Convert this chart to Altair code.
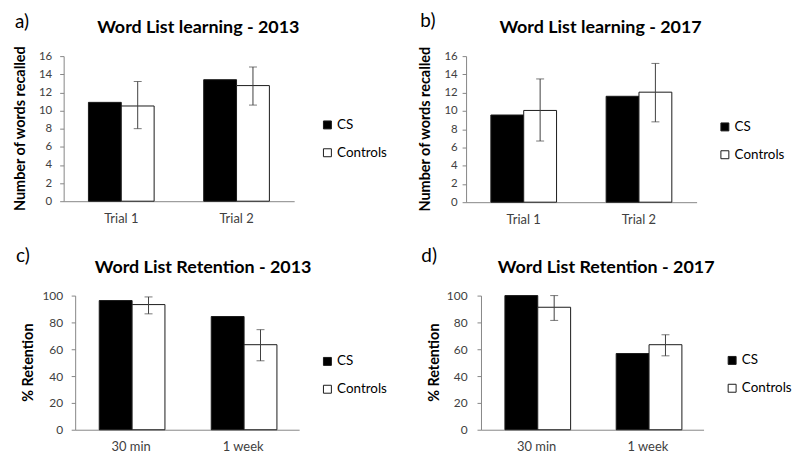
import altair as alt
import pandas as pd

groups = ["CS", "Controls"]
cats_learning = ["Trial 1", "Trial 2"]
cats_retention = ["30 min", "1 week"]

# Panel a: Word List learning - 2013
a_cs = [10.9, 13.4]
a_ctrl = [10.5, 12.75]
a_ctrl_lo = [8.0, 10.6]
a_ctrl_hi = [13.2, 14.8]

# Panel b: Word List learning - 2017
b_cs = [9.55, 11.6]
b_ctrl = [10.05, 12.05]
b_ctrl_lo = [6.7, 8.8]
b_ctrl_hi = [13.5, 15.2]

# Panel c: Word List Retention - 2013
c_cs = [96.3, 84.4]
c_ctrl = [93.3, 63.4]
c_ctrl_lo = [86.4, 51.4]
c_ctrl_hi = [99.0, 74.6]

# Panel d: Word List Retention - 2017
d_cs = [100.0, 56.8]
d_ctrl = [91.3, 63.4]
d_ctrl_lo = [81.5, 55.1]
d_ctrl_hi = [100.0, 70.8]

AXIS_GRAY = "#868686"
LABEL_GRAY = "#404040"
FONT = "Lato"


def make_df(cats, cs, ctrl, lo, hi):
    rows = []
    for i, c in enumerate(cats):
        rows.append({"category": c, "group": "CS", "value": cs[i], "lo": None, "hi": None})
        rows.append({"category": c, "group": "Controls", "value": ctrl[i], "lo": lo[i], "hi": hi[i]})
    return pd.DataFrame(rows)


def panel(cats, cs, ctrl, lo, hi, ymax, ystep, ytitle, title, label,
          width, height, lab_pad, title_x, ttl_cx, lbl_x, lbl_y, leg_x, leg_y, ylab_size,
          space_left, x0=0.0):
    df = make_df(cats, cs, ctrl, lo, hi)
    base = alt.Chart(df)
    x = alt.X("category:N", sort=cats,
              scale=alt.Scale(range=[x0, width], paddingInner=0.43, paddingOuter=0.215),
              axis=alt.Axis(title=None, labelAngle=0, ticks=False, domainColor=AXIS_GRAY,
                            labelColor=LABEL_GRAY, labelFontSize=13, labelPadding=11,
                            labelFont=FONT))
    xo = alt.XOffset("group:N", sort=groups, scale=alt.Scale(paddingInner=0, paddingOuter=0))
    yscale = alt.Scale(domain=[0, ymax], nice=False)
    yaxis = alt.Axis(title=None, values=list(range(0, ymax + 1, ystep)), grid=False,
                     labelOverlap=False, labelFlush=False, offset=-x0,
                     domainColor=AXIS_GRAY, tickColor=AXIS_GRAY, tickSize=4,
                     labelColor=LABEL_GRAY, labelFontSize=ylab_size, labelPadding=lab_pad,
                     labelFont=FONT)
    bars = base.mark_bar(stroke="#1a1a1a", strokeWidth=1).encode(
        x=x, xOffset=xo, y=alt.Y("value:Q", scale=yscale, axis=yaxis),
        fill=alt.Fill("group:N", sort=groups,
                      scale=alt.Scale(domain=groups, range=["#000000", "#ffffff"]),
                      legend=alt.Legend(title=None, orient="none", legendX=leg_x, legendY=leg_y,
                                        symbolType="square", symbolSize=64,
                                        symbolStrokeColor="#1a1a1a", symbolStrokeWidth=1,
                                        labelFontSize=13.5, labelFont=FONT, labelColor="black",
                                        rowPadding=13, labelOffset=3, padding=0)),
    )
    err = base.transform_filter("datum.group == 'Controls'")
    rule = err.mark_rule(color=LABEL_GRAY, strokeWidth=1).encode(
        x=x, xOffset=xo, y=alt.Y("lo:Q", scale=yscale, axis=yaxis), y2="hi:Q")
    cap_lo = err.mark_tick(color=LABEL_GRAY, thickness=1, size=8).encode(
        x=x, xOffset=xo, y=alt.Y("lo:Q", scale=yscale, axis=yaxis))
    cap_hi = err.mark_tick(color=LABEL_GRAY, thickness=1, size=8).encode(
        x=x, xOffset=xo, y=alt.Y("hi:Q", scale=yscale, axis=yaxis))
    ttl = alt.Chart(pd.DataFrame({"t": [title]})).mark_text(
        font=FONT, fontSize=18, fontWeight="bold", align="center", baseline="middle",
        color="black").encode(text="t:N", x=alt.value(ttl_cx), y=alt.value(-28))
    lbl = alt.Chart(pd.DataFrame({"t": [label]})).mark_text(
        font=FONT, fontSize=19, align="left", baseline="alphabetic", color="black").encode(
        text="t:N", x=alt.value(lbl_x), y=alt.value(lbl_y))
    ytl = alt.Chart(pd.DataFrame({"t": [ytitle]})).mark_text(
        font=FONT, fontSize=14.5, fontWeight="bold", align="center", baseline="middle",
        angle=270, color="black").encode(
        text="t:N", x=alt.value(title_x), y=alt.value(height / 2))
    layers = [bars, rule, cap_lo, cap_hi, ttl, lbl, ytl]
    if space_left > 0:
        # invisible layout spacer fixing the panel's left extent
        layers.append(alt.Chart(pd.DataFrame({"s": [0]})).mark_rule(
            color="white", strokeWidth=0.5).encode(
            x=alt.value(-space_left), x2=alt.value(-space_left + 1), y=alt.value(0)))
    return alt.layer(*layers).properties(width=width, height=height)


pa = panel(cats_learning, a_cs, a_ctrl, a_ctrl_lo, a_ctrl_hi, 16, 2, "Number of words recalled",
           "Word List learning - 2013", "a)", 232, 146, 8, -43, 135.5, -49, -28.5, 258.7, 62.5, 11.5,
           55)
pb = panel(cats_learning, b_cs, b_ctrl, b_ctrl_lo, b_ctrl_hi, 16, 2, "Number of words recalled",
           "Word List learning - 2017", "b)", 232, 147, 5, -40.5, 135.3, -46, -29, 253.7, 64.5, 11.5,
           60)
pc = panel(cats_retention, c_cs, c_ctrl, c_ctrl_lo, c_ctrl_hi, 100, 20, "% Retention",
           "Word List Retention - 2013", "c)", 237, 135, 8.6, -35, 140.3, -48, -34, 258.7, 59.5, 12,
           0, x0=11.6)
pd_ = panel(cats_retention, d_cs, d_ctrl, d_ctrl_lo, d_ctrl_hi, 100, 20, "% Retention",
            "Word List Retention - 2017", "d)", 224, 135, 10, -46, 126, -60, -34, 246, 58.5, 12,
            65)

row1 = alt.hconcat(pa, pb, spacing=18).resolve_scale(fill="independent")
row2 = alt.hconcat(pc, pd_, spacing=28).resolve_scale(fill="independent")
chart = alt.vconcat(row1, row2, spacing=21).resolve_scale(fill="independent").properties(
    padding={"left": 0, "top": 3, "right": 0, "bottom": 0},
    background="white",
).configure(font=FONT).configure_view(stroke=None, strokeWidth=0)

chart.save("out.html", embed_options={"renderer": "svg", "actions": False})
